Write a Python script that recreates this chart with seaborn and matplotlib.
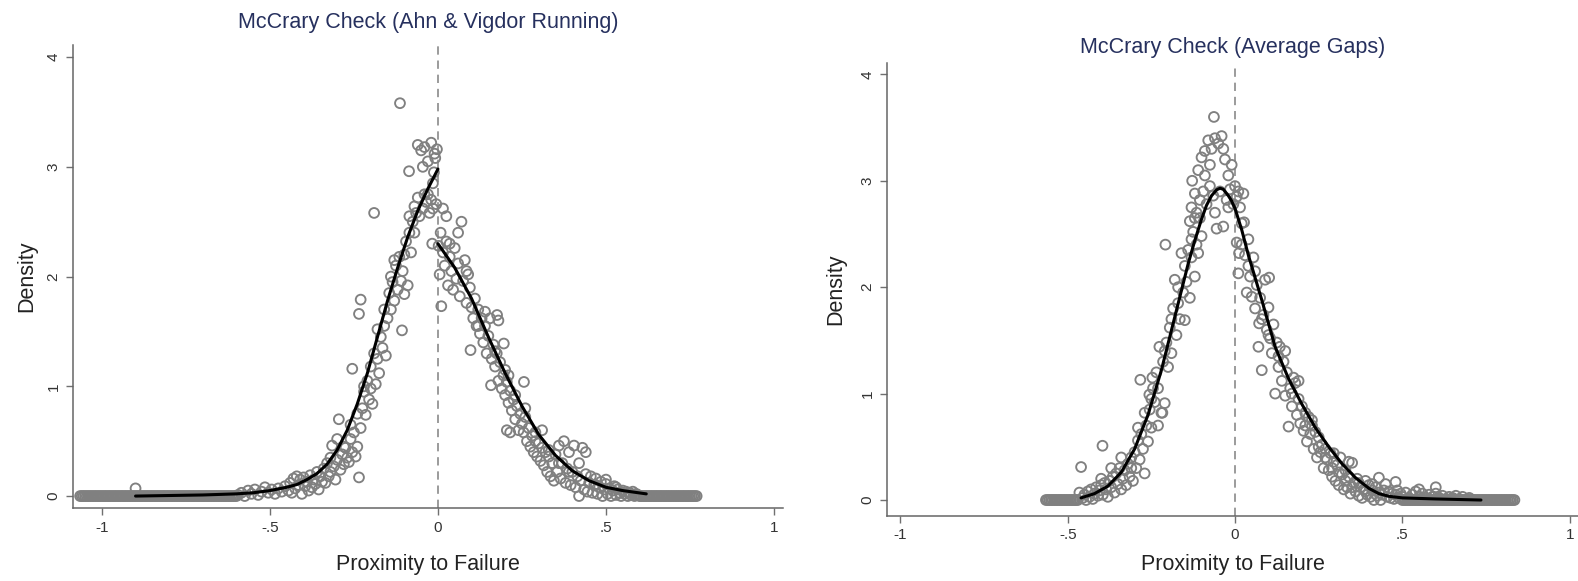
import numpy as np
import matplotlib
matplotlib.use("Agg")
import matplotlib.pyplot as plt
import seaborn as sns

# ---------------- left panel: Ahn & Vigdor running variable ----------------
left_zero_x = [
    -1.065, -1.06, -1.055, -1.05, -1.045, -1.04, -1.035, -1.03, -1.025, -1.02,
    -1.015, -1.01, -1.005, -1.0, -0.995, -0.99, -0.985, -0.98, -0.975, -0.97,
    -0.965, -0.96, -0.955, -0.95, -0.945, -0.94, -0.935, -0.93, -0.925, -0.92,
    -0.915, -0.91, -0.905, -0.9, -0.895, -0.89, -0.885, -0.88, -0.875, -0.87,
    -0.865, -0.86, -0.855, -0.85, -0.845, -0.84, -0.835, -0.83, -0.825, -0.82,
    -0.815, -0.81, -0.805, -0.8, -0.795, -0.79, -0.785, -0.78, -0.775, -0.77,
    -0.765, -0.76, -0.755, -0.75, -0.745, -0.74, -0.735, -0.73, -0.725, -0.72,
    -0.715, -0.71, -0.705, -0.7, -0.695, -0.69, -0.685, -0.68, -0.675, -0.67,
    -0.665, -0.66, -0.655, -0.65, -0.645, -0.64, -0.635, -0.63, -0.625, -0.62,
    -0.615, -0.61, -0.605, -0.6,
    0.6, 0.605, 0.61, 0.615, 0.62, 0.625, 0.63, 0.635, 0.64, 0.645, 0.65, 0.655,
    0.66, 0.665, 0.67, 0.675, 0.68, 0.685, 0.69, 0.695, 0.7, 0.705, 0.71, 0.715,
    0.72, 0.725, 0.73, 0.735, 0.74, 0.745, 0.75, 0.755, 0.76, 0.765, 0.77,
]

left_x = [
    -0.9, -0.595, -0.585, -0.575, -0.565, -0.555, -0.545, -0.535, -0.525, -0.515,
    -0.505, -0.495, -0.485, -0.475, -0.465, -0.455, -0.445,
    -0.44, -0.435, -0.43, -0.425, -0.42, -0.415, -0.41, -0.405, -0.4, -0.395,
    -0.39, -0.385, -0.38, -0.375, -0.37, -0.365, -0.36, -0.355, -0.35, -0.345,
    -0.34, -0.335, -0.33, -0.325, -0.32, -0.315, -0.31, -0.305, -0.3, -0.295,
    -0.29, -0.285, -0.28, -0.275, -0.27, -0.265, -0.26, -0.255, -0.25, -0.245,
    -0.24, -0.235, -0.23,
    -0.225, -0.22, -0.215, -0.21, -0.205, -0.2, -0.195, -0.19, -0.185, -0.18,
    -0.175, -0.17, -0.165, -0.16, -0.155, -0.15, -0.255, -0.235, -0.23,
    -0.145, -0.14, -0.135, -0.13, -0.125, -0.12, -0.115, -0.11, -0.107, -0.105,
    -0.1, -0.095, -0.09, -0.085, -0.08,
    -0.075, -0.07, -0.065, -0.06, -0.055, -0.05, -0.045, -0.04, -0.035, -0.03,
    -0.025, -0.02, -0.015, -0.01, -0.005, -0.003, -0.045, -0.012, -0.017, -0.086,
    -0.19, -0.113, -0.06, -0.008, -0.03, -0.02,
    0.002, 0.005, 0.008, 0.01, 0.015, 0.02, 0.025, 0.03, 0.035, 0.04, 0.045,
    0.05, 0.055, 0.06, 0.065, 0.07, 0.075, 0.08, 0.085, 0.09, 0.095, 0.1,
    0.015, 0.025,
    0.097, 0.105, 0.11, 0.115, 0.12, 0.125, 0.13, 0.135, 0.14, 0.145, 0.15,
    0.155, 0.158, 0.16, 0.165, 0.17, 0.175, 0.18, 0.185, 0.19, 0.195, 0.2,
    0.205, 0.21, 0.215, 0.22, 0.225, 0.23, 0.235, 0.24, 0.245, 0.25,
    0.176, 0.18, 0.196, 0.21, 0.256, 0.205, 0.215,
    0.255, 0.26, 0.265, 0.27, 0.275, 0.28, 0.285, 0.29, 0.295, 0.3, 0.305,
    0.31, 0.315, 0.32, 0.325, 0.33, 0.335, 0.34, 0.345, 0.35, 0.355, 0.36,
    0.365, 0.37, 0.375, 0.38, 0.385, 0.39, 0.395, 0.4, 0.405, 0.41, 0.415,
    0.42, 0.425, 0.43, 0.435, 0.44, 0.445, 0.45,
    0.455, 0.46, 0.465, 0.47, 0.475, 0.48, 0.485, 0.49, 0.495, 0.5, 0.505,
    0.51, 0.515, 0.52, 0.525, 0.53, 0.535, 0.54, 0.545, 0.55, 0.555, 0.56,
    0.565, 0.57, 0.575, 0.58, 0.585, 0.59, 0.595,
    -0.32, -0.3, -0.28, -0.26, -0.24, -0.22, -0.2, -0.18, -0.16, -0.14,
    -0.13, -0.1, -0.085, -0.07, -0.04, -0.015, 0.035, 0.06, 0.085, 0.12,
    0.14, 0.17, 0.2, 0.23, 0.26, 0.29, 0.31, 0.33, 0.36, 0.39,
    0.42, 0.44, 0.47, 0.5, 0.53,
]
left_y = [
    0.07, 0.01, 0.03, 0.0, 0.05, 0.02, 0.06, 0.01, 0.04, 0.08,
    0.03, 0.06, 0.02, 0.07, 0.04, 0.09, 0.05,
    0.12, 0.03, 0.16, 0.07, 0.18, 0.10, 0.15, 0.02, 0.17, 0.09,
    0.13, 0.05, 0.19, 0.08, 0.15, 0.11, 0.22, 0.06, 0.18, 0.13,
    0.25, 0.12, 0.30, 0.18, 0.22, 0.46, 0.27, 0.15, 0.33, 0.70,
    0.24, 0.38, 0.29, 0.44, 0.35, 0.31, 0.52, 0.40, 0.58, 0.36,
    0.45, 0.17, 0.62,
    0.80, 0.95, 0.74, 1.05, 0.88, 1.18, 0.84, 1.30, 1.02, 1.25,
    1.12, 1.45, 1.35, 1.55, 1.28, 1.62, 1.16, 1.66, 1.79,
    1.85, 1.70, 1.95, 1.78, 2.10, 1.88, 2.18, 1.96, 1.51, 2.05,
    1.84, 2.32, 1.92, 2.40, 2.22,
    2.50, 2.64, 2.58, 2.72, 2.55, 3.15, 2.62, 3.18, 2.68, 3.05,
    2.58, 3.22, 2.62, 3.12, 2.66, 3.16, 3.00, 2.95, 2.30, 2.96,
    2.58, 3.58, 3.20, 3.08, 2.75, 2.70,
    2.28, 2.02, 2.40, 1.73, 2.22, 2.10, 2.32, 1.92, 2.18, 2.05, 1.88,
    2.26, 1.98, 2.12, 1.82, 2.50, 1.96, 2.15, 1.76, 2.02, 1.90, 1.72,
    2.62, 2.55,
    1.33, 1.62, 1.80, 1.55, 1.70, 1.48, 1.62, 1.40, 1.55, 1.30, 1.46,
    1.62, 1.01, 1.25, 1.38, 1.18, 1.30, 1.05, 1.22, 0.98, 1.10, 0.92,
    1.04, 0.85, 0.96, 0.78, 0.88, 0.70, 0.82, 0.60, 0.75, 0.66,
    1.65, 1.60, 1.39, 1.10, 1.04, 0.60, 0.58,
    0.58, 0.72, 0.50, 0.62, 0.45, 0.55, 0.40, 0.58, 0.36, 0.48, 0.32,
    0.44, 0.28, 0.40, 0.22, 0.36, 0.18, 0.30, 0.14, 0.38, 0.22, 0.46,
    0.16, 0.30, 0.50, 0.12, 0.25, 0.40, 0.10, 0.22, 0.46, 0.08, 0.18,
    0.0, 0.14, 0.44, 0.06, 0.20, 0.04, 0.12,
    0.18, 0.03, 0.10, 0.16, 0.02, 0.08, 0.13, 0.0, 0.06, 0.11, 0.02,
    0.07, 0.0, 0.05, 0.09, 0.01, 0.06, 0.03, 0.0, 0.05, 0.02, 0.04,
    0.0, 0.03, 0.01, 0.04, 0.0, 0.02, 0.01,
    0.35, 0.52, 0.45, 0.65, 0.75, 1.00, 0.98, 1.52, 1.70, 2.00,
    2.15, 2.20, 2.55, 2.40, 2.75, 2.85, 2.30, 2.40, 2.05, 1.55,
    1.68, 1.32, 1.15, 0.92, 0.80, 0.50, 0.60, 0.42, 0.30, 0.22,
    0.30, 0.40, 0.10, 0.15, 0.08,
]

# local fits either side of the cutoff
left_fit_lo_x = [-0.9, -0.8, -0.7, -0.6, -0.55, -0.5, -0.45, -0.42, -0.39, -0.36,
                 -0.33, -0.3, -0.27, -0.24, -0.21, -0.18, -0.15, -0.12, -0.09,
                 -0.06, -0.03, 0.0]
left_fit_lo_y = [0.0, 0.005, 0.01, 0.02, 0.03, 0.05, 0.08, 0.105, 0.15, 0.205,
                 0.29, 0.42, 0.60, 0.84, 1.12, 1.45, 1.78, 2.08, 2.36,
                 2.60, 2.80, 2.98]
left_fit_hi_x = [0.0, 0.05, 0.1, 0.15, 0.2, 0.25, 0.3, 0.35, 0.4, 0.45, 0.5, 0.55, 0.62]
left_fit_hi_y = [2.30, 2.08, 1.80, 1.45, 1.12, 0.82, 0.56, 0.37, 0.23, 0.14, 0.08, 0.05, 0.02]

# ---------------- right panel: average gaps ----------------
right_zero_x = [
    -0.565, -0.56, -0.555, -0.55, -0.545, -0.54, -0.535, -0.53, -0.525, -0.52,
    -0.515, -0.51, -0.505, -0.5, -0.495, -0.49, -0.485, -0.48, -0.475, -0.47,
    0.5, 0.505, 0.51, 0.515, 0.52, 0.525, 0.53, 0.535, 0.54, 0.545, 0.55,
    0.555, 0.56, 0.565, 0.57, 0.575, 0.58, 0.585, 0.59, 0.595, 0.6, 0.605,
    0.61, 0.615, 0.62, 0.625, 0.63, 0.635, 0.64, 0.645, 0.65, 0.655, 0.66,
    0.665, 0.67, 0.675, 0.68, 0.685, 0.69, 0.695, 0.7, 0.705, 0.71, 0.715,
    0.72, 0.725, 0.73, 0.735, 0.74, 0.745, 0.75, 0.755, 0.76, 0.765, 0.77,
    0.775, 0.78, 0.785, 0.79, 0.795, 0.8, 0.805, 0.81, 0.815, 0.82, 0.825,
    0.83, 0.835,
]

right_x = [
    -0.465, -0.46, -0.455, -0.45, -0.445, -0.44, -0.435, -0.43, -0.425, -0.42,
    -0.415, -0.41, -0.405, -0.4, -0.396, -0.395, -0.39, -0.385, -0.38, -0.375,
    -0.37, -0.365, -0.36, -0.355, -0.35, -0.345, -0.34, -0.335, -0.33, -0.325,
    -0.32, -0.315, -0.31, -0.305, -0.3, -0.295, -0.29, -0.285, -0.28, -0.275,
    -0.27, -0.265, -0.26, -0.255, -0.25,
    -0.283, -0.247, -0.256, -0.217,
    -0.245, -0.24, -0.235, -0.23, -0.226, -0.22, -0.215, -0.21, -0.208, -0.205,
    -0.2, -0.195, -0.19, -0.185, -0.18, -0.175, -0.17, -0.165, -0.16, -0.155,
    -0.15, -0.145, -0.14, -0.135, -0.13, -0.125, -0.12, -0.115, -0.11, -0.105,
    -0.1,
    -0.135, -0.13, -0.128, -0.12, -0.115, -0.11, -0.105, -0.1, -0.095, -0.09,
    -0.085, -0.08, -0.075, -0.07, -0.065, -0.063, -0.06, -0.055, -0.05, -0.045,
    -0.04, -0.035, -0.03, -0.025, -0.02, -0.015, -0.01, -0.005, 0.0, 0.005,
    0.005, 0.01, 0.012, 0.015, 0.02, 0.025, 0.027, 0.03, 0.035, 0.04, 0.045,
    0.05, 0.055, 0.06, 0.065, 0.07, 0.072, 0.075, 0.08, 0.085, 0.09, 0.095,
    0.1, 0.102, 0.105, 0.11, 0.115, 0.12, 0.125, 0.13, 0.134, 0.14, 0.145,
    0.15, 0.155, 0.16, 0.165, 0.17, 0.175, 0.18, 0.185, 0.19, 0.195, 0.2,
    0.205, 0.21, 0.215, 0.22, 0.225, 0.23, 0.235, 0.24, 0.245, 0.25, 0.255,
    0.26, 0.265, 0.27, 0.275, 0.28, 0.285, 0.29, 0.295, 0.3, 0.305, 0.31,
    0.315, 0.32, 0.325, 0.33, 0.335, 0.34, 0.345, 0.35, 0.355, 0.36, 0.365,
    0.37, 0.375, 0.38, 0.385, 0.39, 0.395, 0.4, 0.405, 0.41, 0.415, 0.42,
    0.425, 0.43, 0.435, 0.44, 0.445,
    0.34, 0.295, 0.43, 0.48, 0.6, 0.45, 0.55,
    0.455, 0.46, 0.465, 0.47, 0.475, 0.48, 0.485, 0.49, 0.495, 0.5, 0.51,
    0.52, 0.53, 0.54, 0.55, 0.56, 0.57, 0.58, 0.59, 0.6, 0.61, 0.62, 0.63,
    0.64, 0.65, 0.66, 0.67, 0.68, 0.7,
    -0.4, -0.37, -0.34, -0.31, -0.29, -0.27, -0.25, -0.23, -0.21, -0.19,
    -0.17, -0.15, -0.13, -0.12, -0.09, -0.075, -0.06, -0.035, -0.02, 0.01,
    0.02, 0.04, 0.06, 0.08, 0.1, 0.13, 0.15, 0.17, 0.19, 0.21,
    0.23, 0.25, 0.27, 0.29, 0.31, 0.33, 0.35, 0.37, 0.39, 0.41,
]
right_y = [
    0.07, 0.31, 0.02, 0.05, 0.0, 0.08, 0.03, 0.10, 0.01, 0.06,
    0.12, 0.04, 0.09, 0.14, 0.51, 0.05, 0.16, 0.10, 0.03, 0.18,
    0.12, 0.22, 0.07, 0.25, 0.15, 0.30, 0.10, 0.20, 0.28, 0.14,
    0.34, 0.22, 0.40, 0.18, 0.45, 0.30, 0.56, 0.38, 0.62, 0.48,
    0.25, 0.70, 0.55, 0.85, 0.68,
    1.13, 1.15, 0.99, 0.82,
    1.05, 0.92, 1.20, 0.70, 1.44, 0.82, 1.30, 0.91, 2.40, 1.48,
    1.25, 1.62, 1.38, 1.80, 2.07, 1.55, 1.85, 1.70, 2.32, 1.95,
    1.69, 2.05, 2.35, 1.90, 2.28, 2.52, 2.10, 2.40, 2.32, 2.65,
    2.48,
    2.62, 2.75, 3.00, 2.88, 2.70, 3.10, 2.82, 3.22, 2.90, 3.28,
    2.78, 3.38, 2.95, 3.30, 2.86, 3.60, 3.40, 2.55, 3.35, 2.90,
    3.42, 2.57, 3.20, 2.82, 3.05, 2.92, 3.15, 2.78, 2.95, 2.85,
    2.42, 2.13, 2.32, 2.75, 2.60, 2.88, 2.61, 2.30, 1.95, 2.45, 2.10,
    1.91, 2.28, 1.80, 2.02, 1.44, 1.66, 1.90, 1.22, 1.74, 2.07, 1.60,
    1.81, 2.09, 1.52, 1.38, 1.65, 1.00, 1.48, 1.25, 1.44, 1.12, 1.30,
    0.98, 1.20, 0.69, 1.05, 0.88, 1.15, 1.10, 0.80, 0.95, 0.72, 0.88,
    0.65, 0.82, 0.55, 0.78, 0.62, 0.70, 0.48, 0.64, 0.40, 0.59, 0.45,
    0.52, 0.30, 0.48, 0.38, 0.28, 0.44, 0.22, 0.36, 0.18, 0.33, 0.14,
    0.40, 0.24, 0.10, 0.28, 0.12, 0.22, 0.06, 0.35, 0.16, 0.08, 0.20,
    0.04, 0.12, 0.02, 0.10, 0.18, 0.05, 0.14, 0.03, 0.09, 0.0, 0.12,
    0.04, 0.07, 0.0, 0.05, 0.09,
    0.36, 0.44, 0.21, 0.17, 0.12, 0.15, 0.10,
    0.03, 0.08, 0.02, 0.06, 0.01, 0.05, 0.09, 0.02, 0.06, 0.03, 0.07,
    0.02, 0.05, 0.08, 0.03, 0.06, 0.02, 0.05, 0.03, 0.06, 0.02, 0.04, 0.01,
    0.03, 0.02, 0.04, 0.01, 0.03, 0.02,
    0.20, 0.30, 0.40, 0.30, 0.68, 0.82, 0.95, 1.05, 1.40, 1.70,
    2.00, 2.20, 2.45, 2.65, 3.05, 3.15, 2.70, 3.30, 2.75, 2.90,
    2.40, 2.20, 2.15, 1.70, 1.55, 1.35, 1.40, 1.00, 1.12, 0.70,
    0.75, 0.50, 0.40, 0.30, 0.26, 0.18, 0.12, 0.16, 0.08, 0.15,
]

right_fit_x = [-0.46, -0.42, -0.38, -0.34, -0.3, -0.26, -0.22, -0.18, -0.14, -0.12,
               -0.1, -0.085, -0.07, -0.055, -0.045, -0.035, -0.02, -0.01, 0.0,
               0.02, 0.04, 0.08, 0.12, 0.16, 0.2, 0.24, 0.28, 0.32, 0.36, 0.4,
               0.43, 0.46, 0.5, 0.6, 0.735]
right_fit_y = [0.02, 0.06, 0.13, 0.26, 0.48, 0.80, 1.22, 1.72, 2.22, 2.44,
               2.64, 2.77, 2.86, 2.915, 2.93, 2.92, 2.86, 2.81, 2.74,
               2.54, 2.30, 1.88, 1.44, 1.14, 0.90, 0.68, 0.50, 0.34, 0.21, 0.11,
               0.06, 0.035, 0.02, 0.01, 0.0]

x_ticks = [-1, -0.5, 0, 0.5, 1]
x_tick_labels = ["-1", "-.5", "0", ".5", "1"]
y_ticks = [0, 1, 2, 3, 4]
y_tick_labels = ["0", "1", "2", "3", "4"]

sns.set_style("ticks")
plt.rcParams["font.family"] = ["Liberation Sans", "DejaVu Sans"]

fig = plt.figure(figsize=(15.78, 5.81), dpi=100)
ax_l = fig.add_axes([0.0463, 0.1256, 0.4499, 0.7969])
ax_r = fig.add_axes([0.5621, 0.1119, 0.4379, 0.7797])

point_color = "#808080"
title_color = "#26305e"
mk = dict(s=50, facecolors="none", edgecolor=point_color, linewidth=1.35, zorder=2)


def style_axis(ax, title, title_pad, xlim, ylim, xpad, ypad):
    ax.set_xlim(*xlim)
    ax.set_ylim(*ylim)
    ax.axvline(0, color="#8a8a8a", lw=1.2, ls=(0, (5, 3.5)), zorder=1)
    ax.set_xticks(x_ticks)
    ax.set_xticklabels(x_tick_labels)
    ax.set_yticks(y_ticks)
    ax.set_yticklabels(y_tick_labels, rotation=90, va="center")
    ax.tick_params(axis="both", direction="out", length=5, width=1,
                   color="#707070", labelsize=11, labelcolor="#333333", pad=4)
    for side in ["top", "right"]:
        ax.spines[side].set_visible(False)
    for side in ["left", "bottom"]:
        ax.spines[side].set_color("#666666")
        ax.spines[side].set_linewidth(1.1)
    ax.set_xlabel("Proximity to Failure", fontsize=15.5, color="#222222", labelpad=xpad)
    ax.set_ylabel("Density", fontsize=15.5, color="#222222", labelpad=ypad)
    ax.set_title(title, fontsize=15.5, color=title_color, pad=title_pad)


# left panel
sns.scatterplot(x=left_zero_x, y=np.zeros(len(left_zero_x)), ax=ax_l, **mk)
sns.scatterplot(x=left_x, y=left_y, ax=ax_l, **mk)
sns.lineplot(x=left_fit_lo_x, y=left_fit_lo_y, ax=ax_l, sort=False,
             color="black", lw=2.2, zorder=3)
sns.lineplot(x=left_fit_hi_x, y=left_fit_hi_y, ax=ax_l, sort=False,
             color="black", lw=2.2, zorder=3)
style_axis(ax_l, "McCrary Check (Ahn & Vigdor Running)", 12,
           (-1.086, 1.027), (-0.109, 4.11), 14, 6.5)

# right panel
sns.scatterplot(x=right_zero_x, y=np.zeros(len(right_zero_x)), ax=ax_r, **mk)
sns.scatterplot(x=right_x, y=right_y, ax=ax_r, **mk)
sns.lineplot(x=right_fit_x, y=right_fit_y, ax=ax_r, sort=False,
             color="black", lw=2.2, zorder=3)
style_axis(ax_r, "McCrary Check (Average Gaps)", 7,
           (-1.04, 1.025), (-0.150, 4.107), 8, 10)

fig.savefig("out.png", dpi=100, facecolor="white")
